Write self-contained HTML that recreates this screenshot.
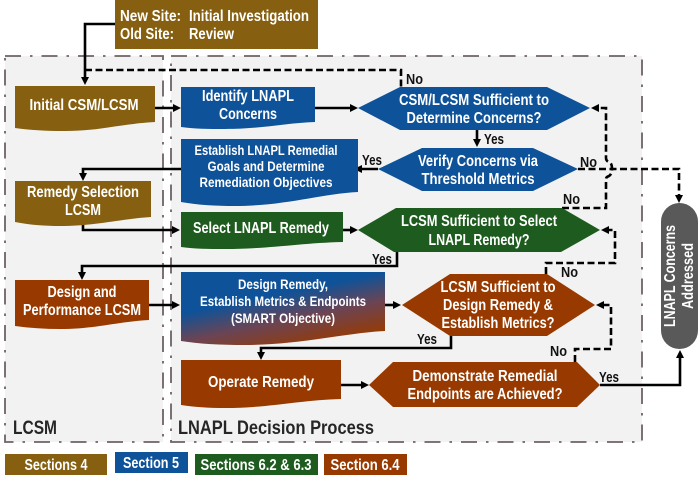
<!DOCTYPE html>
<html>
<head>
<meta charset="utf-8">
<style>
html,body{margin:0;padding:0;background:#fff;width:700px;height:477px;overflow:hidden}
svg{display:block}
text{font-family:"Liberation Sans",sans-serif;font-weight:bold}
.w{fill:#fff;font-size:15.5px;text-anchor:middle}
.s{fill:#fff;font-size:13.5px;text-anchor:middle}
.k{fill:#111;font-size:14.5px}
.l{fill:none;stroke:#000;stroke-width:2.6}
.d{fill:none;stroke:#000;stroke-width:2.6;stroke-dasharray:7 3.5}
.p{fill:#f2f2f2;stroke:#6e6264;stroke-width:1.8;stroke-dasharray:16 9 2.5 9}
</style>
</head>
<body>
<svg width="700" height="477" viewBox="0 0 700 477" xmlns="http://www.w3.org/2000/svg">
<defs>
<linearGradient id="g" x1="0.2" y1="0.1" x2="0.72" y2="1">
<stop offset="0.3" stop-color="#0e5299"/>
<stop offset="0.62" stop-color="#6b4454"/>
<stop offset="1" stop-color="#983a00"/>
</linearGradient>
</defs>

<!-- panels -->
<rect x="5" y="56" width="158" height="386" class="p"/>
<rect x="171" y="56" width="471" height="386" class="p"/>

<!-- top box -->
<rect x="115" y="0" width="203" height="49" fill="#866010"/>
<text x="120" y="21" class="w" style="text-anchor:start" textLength="61" lengthAdjust="spacingAndGlyphs">New Site:</text>
<text x="189" y="21" class="w" style="text-anchor:start" textLength="120" lengthAdjust="spacingAndGlyphs">Initial Investigation</text>
<text x="120" y="39" class="w" style="text-anchor:start" textLength="54" lengthAdjust="spacingAndGlyphs">Old Site:</text>
<text x="189" y="39" class="w" style="text-anchor:start" textLength="45" lengthAdjust="spacingAndGlyphs">Review</text>

<!-- connectors -->
<path class="l" d="M115 24H85V80"/>
<path class="d" d="M85 70H401V87"/>
<path class="l" d="M155 108H176"/>
<path class="l" d="M315 108H353"/>
<path class="l" d="M477 130V142"/>
<path class="l" d="M378 169H360"/>
<path class="l" d="M181 169H83V175"/>
<path class="l" d="M83 222V230H175"/>
<path class="l" d="M343 230H353"/>
<path class="l" d="M397 252V266H82V275"/>
<path class="l" d="M149 305H175"/>
<path class="l" d="M385 305H397"/>
<path class="l" d="M451 336V348H261V355"/>
<path class="l" d="M341 385H364"/>
<path class="l" d="M600 385H680V356"/>
<path class="d" d="M578 169H679V198"/>
<path class="d" d="M562 208H606V179Q606 177 609 176Q612 174 612 169Q612 163 609 162Q606 161 606 158V108H597"/>
<path class="d" d="M546 274V263H615V230H607"/>
<path class="d" d="M575 362V349H611V305H603"/>

<!-- arrowheads -->
<g fill="#000">
<path d="M85 85l-4 -8h8z"/>
<path d="M181 108l-8 -4v8z"/>
<path d="M358 108l-8 -4v8z"/>
<path d="M477 147l-4 -8h8z"/>
<path d="M354 169l8 -4v8z"/>
<path d="M83 181l-4 -8h8z"/>
<path d="M180 230l-8 -4v8z"/>
<path d="M358 230l-8 -4v8z"/>
<path d="M82 280l-4 -8h8z"/>
<path d="M180 305l-8 -4v8z"/>
<path d="M401 305l-8 -4v8z"/>
<path d="M261 360l-4 -8h8z"/>
<path d="M369 385l-8 -4v8z"/>
<path d="M680 350l-4 8h8z"/>
<path d="M679 203l-4 -8h8z"/>
<path d="M591 108l8 -4v8z"/>
<path d="M601 230l8 -4v8z"/>
<path d="M596 305l8 -4v8z"/>
</g>

<!-- gold documents -->
<path fill="#866010" d="M15 86H155V122C120 124 100 131 65 131C45 131 30 130 15 128Z"/>
<text x="84" y="110" class="w" textLength="109" lengthAdjust="spacingAndGlyphs">Initial CSM/LCSM</text>
<path fill="#866010" d="M15 181H151V217C120 219 95 226 60 226C45 226 30 225 15 222Z"/>
<text x="83" y="197" class="w" textLength="112" lengthAdjust="spacingAndGlyphs">Remedy Selection</text>
<text x="83" y="215" class="w" textLength="36" lengthAdjust="spacingAndGlyphs">LCSM</text>

<!-- orange document left -->
<path fill="#983a00" d="M15 280H149V320C115 322 95 329 60 329C45 329 30 328 15 326Z"/>
<text x="82" y="297" class="w" textLength="69" lengthAdjust="spacingAndGlyphs">Design and</text>
<text x="82" y="315" class="w" textLength="118" lengthAdjust="spacingAndGlyphs">Performance LCSM</text>

<!-- blue documents -->
<path fill="#0e5299" d="M181 87H315V122C285 123 262 129 225 129C208 129 195 129 181 127Z"/>
<text x="248" y="101" class="w" textLength="92" lengthAdjust="spacingAndGlyphs">Identify LNAPL</text>
<text x="248" y="119" class="w" textLength="58" lengthAdjust="spacingAndGlyphs">Concerns</text>
<path fill="#0e5299" d="M181 139H358V192C320 194 285 206 235 206C215 206 198 205 181 202Z"/>
<text x="266" y="155" class="s" textLength="143" lengthAdjust="spacingAndGlyphs">Establish LNAPL Remedial</text>
<text x="266" y="171" class="s" textLength="117" lengthAdjust="spacingAndGlyphs">Goals and Determine</text>
<text x="266" y="187" class="s" textLength="133" lengthAdjust="spacingAndGlyphs">Remediation Objectives</text>

<!-- green document -->
<path fill="#1e5b1e" d="M181 212H343V242C300 243 270 249 225 249C208 249 195 249 181 247Z"/>
<text x="261" y="233" class="w" textLength="136" lengthAdjust="spacingAndGlyphs">Select LNAPL Remedy</text>

<!-- gradient document -->
<path fill="url(#g)" d="M181 272H385V331C345 333 300 345 245 345C220 345 200 344 181 341Z"/>
<text x="283" y="289" class="s" textLength="90" lengthAdjust="spacingAndGlyphs">Design Remedy,</text>
<text x="283" y="306" class="s" textLength="166" lengthAdjust="spacingAndGlyphs">Establish Metrics &amp; Endpoints</text>
<text x="283" y="323" class="s" textLength="104" lengthAdjust="spacingAndGlyphs">(SMART Objective)</text>

<!-- operate -->
<path fill="#983a00" d="M181 360H341V399C300 400 270 408 225 408C208 408 195 407 181 405Z"/>
<text x="261" y="387" class="w" textLength="106" lengthAdjust="spacingAndGlyphs">Operate Remedy</text>

<!-- hexagons -->
<polygon fill="#0e5299" points="358,108 400,87 547,87 590,108 547,130 400,130"/>
<text x="474" y="105" class="w" textLength="150" lengthAdjust="spacingAndGlyphs">CSM/LCSM Sufficient to</text>
<text x="474" y="123" class="w" textLength="135" lengthAdjust="spacingAndGlyphs">Determine Concerns?</text>

<polygon fill="#0e5299" points="378,169 422,148 533,148 578,169 533,191 422,191"/>
<text x="478" y="166" class="w" textLength="120" lengthAdjust="spacingAndGlyphs">Verify Concerns via</text>
<text x="478" y="184" class="w" textLength="113" lengthAdjust="spacingAndGlyphs">Threshold Metrics</text>

<polygon fill="#1e5b1e" points="358,230 396,208 562,208 600,230 561,252 394,252"/>
<text x="479" y="226" class="w" textLength="156" lengthAdjust="spacingAndGlyphs">LCSM Sufficient to Select</text>
<text x="479" y="245" class="w" textLength="101" lengthAdjust="spacingAndGlyphs">LNAPL Remedy?</text>

<polygon fill="#983a00" points="402,305 450,274 547,274 595,305 547,336 450,336"/>
<text x="498" y="292" class="w" textLength="115" lengthAdjust="spacingAndGlyphs">LCSM Sufficient to</text>
<text x="498" y="310" class="w" textLength="110" lengthAdjust="spacingAndGlyphs">Design Remedy &amp;</text>
<text x="498" y="328" class="w" textLength="113" lengthAdjust="spacingAndGlyphs">Establish Metrics?</text>

<polygon fill="#983a00" points="369,385 393,362 577,362 600,385 577,407 393,407"/>
<text x="485" y="381" class="w" textLength="145" lengthAdjust="spacingAndGlyphs">Demonstrate Remedial</text>
<text x="485" y="399" class="w" textLength="155" lengthAdjust="spacingAndGlyphs">Endpoints are Achieved?</text>

<!-- pill -->
<rect x="661" y="203" width="37" height="146" rx="18.5" ry="18.5" fill="#595959"/>
<text transform="translate(675 276) rotate(-90)" class="w" textLength="102" lengthAdjust="spacingAndGlyphs">LNAPL Concerns</text>
<text transform="translate(693 276) rotate(-90)" class="w" textLength="66" lengthAdjust="spacingAndGlyphs">Addressed</text>

<!-- yes/no labels -->
<text x="406" y="84" class="k" textLength="17" lengthAdjust="spacingAndGlyphs">No</text>
<text x="484" y="144" class="k" textLength="20" lengthAdjust="spacingAndGlyphs">Yes</text>
<text x="362" y="165" class="k" textLength="20" lengthAdjust="spacingAndGlyphs">Yes</text>
<text x="580" y="167" class="k" textLength="17" lengthAdjust="spacingAndGlyphs">No</text>
<text x="563" y="204" class="k" textLength="17" lengthAdjust="spacingAndGlyphs">No</text>
<text x="372" y="264" class="k" textLength="20" lengthAdjust="spacingAndGlyphs">Yes</text>
<text x="561" y="277" class="k" textLength="17" lengthAdjust="spacingAndGlyphs">No</text>
<text x="417" y="344" class="k" textLength="20" lengthAdjust="spacingAndGlyphs">Yes</text>
<text x="550" y="356" class="k" textLength="17" lengthAdjust="spacingAndGlyphs">No</text>
<text x="599" y="382" class="k" textLength="20" lengthAdjust="spacingAndGlyphs">Yes</text>

<!-- panel titles -->
<text x="13" y="434" style="font-size:19.5px;fill:#262626" textLength="44" lengthAdjust="spacingAndGlyphs">LCSM</text>
<text x="178" y="434" style="font-size:19.5px;fill:#262626" textLength="196" lengthAdjust="spacingAndGlyphs">LNAPL Decision Process</text>

<!-- legend -->
<rect x="5" y="454" width="102" height="21" fill="#866010"/>
<text x="56" y="470" class="w" textLength="63" lengthAdjust="spacingAndGlyphs">Sections 4</text>
<rect x="115" y="452" width="73" height="21" fill="#0e5299"/>
<text x="151" y="468" class="w" textLength="56" lengthAdjust="spacingAndGlyphs">Section 5</text>
<rect x="195" y="454" width="123" height="21" fill="#1e5b1e"/>
<text x="256" y="470" class="w" textLength="111" lengthAdjust="spacingAndGlyphs">Sections 6.2 &amp; 6.3</text>
<rect x="324" y="454" width="83" height="21" fill="#983a00"/>
<text x="365" y="470" class="w" textLength="69" lengthAdjust="spacingAndGlyphs">Section 6.4</text>
</svg>
</body>
</html>
